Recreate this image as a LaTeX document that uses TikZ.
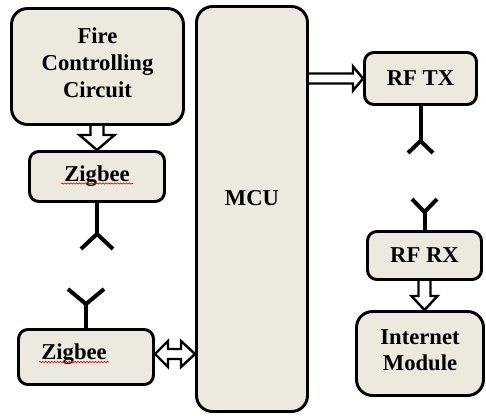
\documentclass[tikz,border=0pt]{standalone}
\usepackage{fontspec}
\setmainfont{Liberation Serif}
\usetikzlibrary{calc,decorations.pathmorphing}
\definecolor{boxfill}{HTML}{ECE9DF}
\tikzset{
  block/.style={draw, line width=2.2pt, fill=boxfill, rounded corners=7pt, align=center, inner sep=0pt, font=\bfseries\fontsize{17}{20}\selectfont},
  bigblock/.style={block, rounded corners=12pt},
  lbl/.style={inner sep=0pt, font=\bfseries\fontsize{17}{20}\selectfont},
  hollow/.style={line width=1.8pt, line join=miter},
  ant/.style={line width=3pt, line join=miter},
  squig/.style={red, line width=0.5pt, decorate, decoration={snake, amplitude=0.45pt, segment length=2.2pt}}
}

\begin{document}
\begin{tikzpicture}[x=0.75pt,y=0.75pt]
\useasboundingbox (0,0) rectangle (486,-415);
% blocks
\node[bigblock, minimum width=129pt, minimum height=87pt, text depth=6pt] (fire) at (97.5,-66.5) {Fire\\Controlling\\Circuit};
\node[block, minimum width=101.25pt, minimum height=37.5pt] (zig1) at (97,-176.5) {Zigbee};
\node[bigblock, minimum width=83.25pt, minimum height=303.75pt] (mcu) at (252,-209) {};
\node[lbl] (mcutxt) at ($(mcu.center)+(0,11)$) {MCU};
\node[block, minimum width=84pt, minimum height=39pt] (rftx) at (420.5,-78.5) {RF TX};
\node[block, minimum width=85.5pt, minimum height=36pt] (rfrx) at (424.5,-255.5) {RF RX};
\node[bigblock, minimum width=95.25pt, minimum height=63pt, text depth=5pt] (inet) at (420,-353.5) {Internet\\Module};
\node[block, minimum width=101.25pt, minimum height=41.25pt] (zig2) at (86,-357) {};
\node[lbl] (zig2txt) at ($(zig2.center)+(-12,3)$) {Zigbee};
% spell check marks
\draw[squig] ($(zig1.center)+(-36,-7)$) -- ++(72,0);
\draw[squig] ($(zig2txt.center)+(-35,-8)$) -- ++(70,0);
% hollow arrows
\coordinate (fz) at (zig1.north |- fire.south);
\draw[hollow] ($(fz)+(-6.5,0)$) |- ($(zig1.north)+(-17.5,15)$) -- (zig1.north) -- ($(zig1.north)+(17.5,15)$) -| ($(fz)+(6.5,0)$);
\coordinate (mt) at (mcu.east |- rftx.west);
\draw[hollow] ($(mt)+(0,5)$) -- ($(rftx.west)+(-10,5)$) -- ++(0,7) -- (rftx.west) -- ($(rftx.west)+(-10,-12)$) -- ++(0,7) -- ($(mt)+(0,-5)$);
\coordinate (ri) at (rfrx.south |- inet.north);
\draw[hollow] ($(rfrx.south)+(-6,0)$) |- ($(ri)+(-13,14)$) -- (ri) -- ($(ri)+(13,14)$) -| ($(rfrx.south)+(6,0)$);
\coordinate (zl) at ($(zig2.east)+(0,3)$);
\coordinate (zr) at (mcu.west |- zl);
\draw[hollow] (zl) -- ($(zl)+(13,13)$) -- ++(0,-8) -- ($(zr)+(-14,5)$) -- ++(0,8) -- (zr) -- ++(-14,-13) -- ++(0,8) -- ($(zl)+(13,-5)$) -- ++(0,-8) -- cycle;
% antennas
\draw[ant] (zig1.south) -- ++(0,-31) coordinate (ant1);
\draw[ant] ($(ant1)+(-16,-15)$) -- (ant1) -- ++(16,-15);
\draw[ant] (rftx.south) -- ++(0,-35) coordinate (ant2);
\draw[ant] ($(ant2)+(-12.5,-12)$) -- (ant2) -- ++(12.5,-12);
\draw[ant] (rfrx.north) -- ++(0,18) coordinate (ant3);
\draw[ant] ($(ant3)+(-12.5,13)$) -- (ant3) -- ++(12.5,13);
\draw[ant] (zig2.north) -- ++(0,24) coordinate (ant4);
\draw[ant] ($(ant4)+(-18,15)$) -- (ant4) -- ++(18,15);
\end{tikzpicture}
\end{document}
